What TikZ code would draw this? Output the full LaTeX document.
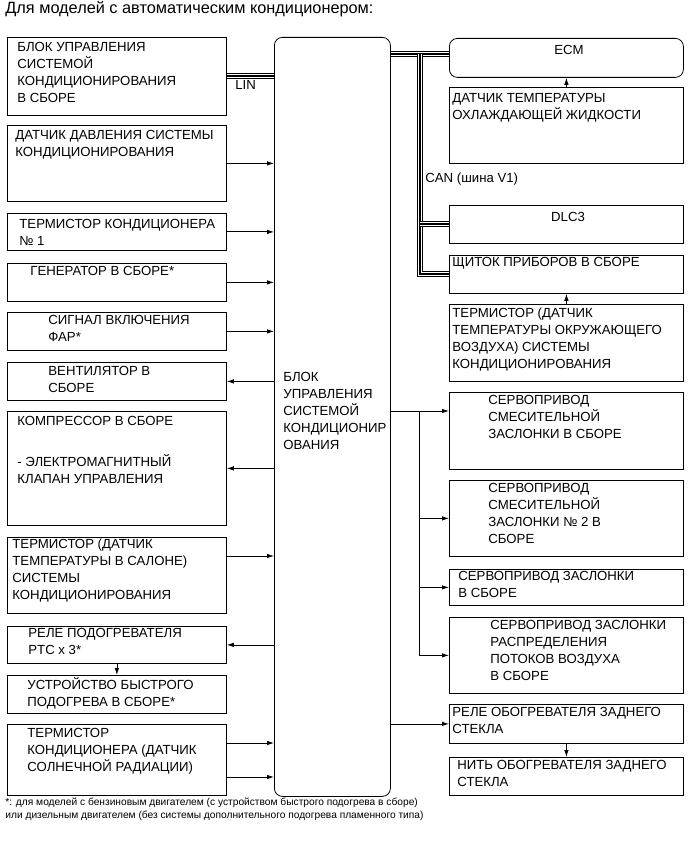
\documentclass[tikz,border=0pt]{standalone}
\usepackage{fontspec}
\setmainfont{Liberation Sans}
\usetikzlibrary{arrows.meta, calc}

\begin{document}
\begin{tikzpicture}[x=1pt, y=-1pt, line width=0.8pt,
    box/.style={draw, rectangle, anchor=north west, inner sep=0pt},
    lbox/.style={box, minimum width=219pt},
    rbox/.style={box, minimum width=234pt},
    txt/.style={anchor=north west, inner sep=0pt, align=left, font=\fontsize{13.2}{17}\selectfont},
    arr/.style={-{Latex[length=7pt, width=4.5pt]}},
    bus/.style={line width=6pt, postaction={draw, white, line width=4pt}, postaction={draw, black, line width=2pt}}]
        \useasboundingbox (0,0) rectangle (691,858);

        \node[anchor=base west, inner sep=0pt, font=\fontsize{16.3}{18}\selectfont] (title) at (5,14) {Для моделей с автоматическим кондиционером:};

        % central unit
        \node[box, rounded corners=8pt, minimum width=116pt, minimum height=759pt] (ecu) at (274,37) {};
        \node[txt] (ecut) at (283,372) {БЛОК\\УПРАВЛЕНИЯ\\СИСТЕМОЙ\\КОНДИЦИОНИР\\ОВАНИЯ};

        % left column
        \node[lbox, minimum height=78pt] (acu) at (7,37) {};
        \node[txt] (acut) at (17,42) {БЛОК УПРАВЛЕНИЯ\\СИСТЕМОЙ\\КОНДИЦИОНИРОВАНИЯ\\В СБОРЕ};
        \node[lbox, minimum height=76pt] (dp) at (7,125) {};
        \node[txt] (dpt) at (15,130) {ДАТЧИК ДАВЛЕНИЯ СИСТЕМЫ\\КОНДИЦИОНИРОВАНИЯ};
        \node[lbox, minimum height=37pt] (th1) at (7,213) {};
        \node[txt] (th1t) at (19,219) {ТЕРМИСТОР КОНДИЦИОНЕРА\\№ 1};
        \node[lbox, minimum height=38pt] (gen) at (7,263) {};
        \node[txt] (gent) at (30,266) {ГЕНЕРАТОР В СБОРЕ*};
        \node[lbox, minimum height=38pt] (hl) at (7,312) {};
        \node[txt] (hlt) at (48,315) {СИГНАЛ ВКЛЮЧЕНИЯ\\ФАР*};
        \node[lbox, minimum height=38pt] (fan) at (7,362) {};
        \node[txt] (fant) at (48,366) {ВЕНТИЛЯТОР В\\СБОРЕ};
        \node[lbox, minimum height=114pt] (cmp) at (7,411) {};
        \node[txt] (cmpt) at (17,416) {КОМПРЕССОР В СБОРЕ\\[24pt]- ЭЛЕКТРОМАГНИТНЫЙ\\КЛАПАН УПРАВЛЕНИЯ};
        \node[lbox, minimum height=76pt] (tr) at (7,537) {};
        \node[txt] (trt) at (12,539) {ТЕРМИСТОР (ДАТЧИК\\ТЕМПЕРАТУРЫ В САЛОНЕ)\\СИСТЕМЫ\\КОНДИЦИОНИРОВАНИЯ};
        \node[lbox, minimum height=37pt] (ptc) at (7,626) {};
        \node[txt] (ptct) at (28,628) {РЕЛЕ ПОДОГРЕВАТЕЛЯ\\PTC x 3*};
        \node[lbox, minimum height=38pt] (qh) at (7,675) {};
        \node[txt] (qht) at (27,677) {УСТРОЙСТВО БЫСТРОГО\\ПОДОГРЕВА В СБОРЕ*};
        \node[lbox, minimum height=71pt] (sol) at (7,724) {};
        \node[txt] (solt) at (27,728) {ТЕРМИСТОР\\КОНДИЦИОНЕРА (ДАТЧИК\\СОЛНЕЧНОЙ РАДИАЦИИ)};

        % right column
        \node[rbox, rounded corners=8pt, minimum height=39pt] (ecm) at (449,38) {};
        \node[txt, anchor=north] (ecmt) at (569,45) {ECM};
        \node[rbox, minimum height=76pt] (ct) at (449,87) {};
        \node[txt] (ctt) at (452,93) {ДАТЧИК ТЕМПЕРАТУРЫ\\ОХЛАЖДАЮЩЕЙ ЖИДКОСТИ};
        \node[txt] (cant) at (425,173) {CAN (шина V1)};
        \node[rbox, minimum height=38pt] (dlc) at (449,205) {};
        \node[txt, anchor=north] (dlct) at (568,212) {DLC3};
        \node[rbox, minimum height=38pt] (panel) at (449,255) {};
        \node[txt] (panelt) at (452,257) {ЩИТОК ПРИБОРОВ В СБОРЕ};
        \node[rbox, minimum height=77pt] (amb) at (449,304) {};
        \node[txt] (ambt) at (452,308) {ТЕРМИСТОР (ДАТЧИК\\ТЕМПЕРАТУРЫ ОКРУЖАЮЩЕГО\\ВОЗДУХА) СИСТЕМЫ\\КОНДИЦИОНИРОВАНИЯ};
        \node[rbox, minimum height=77pt] (s1) at (449,392) {};
        \node[txt] (s1t) at (488,395) {СЕРВОПРИВОД\\СМЕСИТЕЛЬНОЙ\\ЗАСЛОНКИ В СБОРЕ};
        \node[rbox, minimum height=76pt] (s2) at (449,480) {};
        \node[txt] (s2t) at (488,483) {СЕРВОПРИВОД\\СМЕСИТЕЛЬНОЙ\\ЗАСЛОНКИ № 2 В\\СБОРЕ};
        \node[rbox, minimum height=36pt] (s3) at (449,569) {};
        \node[txt] (s3t) at (458,571) {СЕРВОПРИВОД ЗАСЛОНКИ\\В СБОРЕ};
        \node[rbox, minimum height=76pt] (s4) at (449,617) {};
        \node[txt] (s4t) at (490,620) {СЕРВОПРИВОД ЗАСЛОНКИ\\РАСПРЕДЕЛЕНИЯ\\ПОТОКОВ ВОЗДУХА\\В СБОРЕ};
        \node[rbox, minimum height=39pt] (rr) at (449,704) {};
        \node[txt] (rrt) at (452,707) {РЕЛЕ ОБОГРЕВАТЕЛЯ ЗАДНЕГО\\СТЕКЛА};
        \node[rbox, minimum height=38pt] (rh) at (449,757) {};
        \node[txt] (rht) at (457,760) {НИТЬ ОБОГРЕВАТЕЛЯ ЗАДНЕГО\\СТЕКЛА};

        % buses
        \draw[bus] (acu.east) -- (acu.east -| ecu.west);
        \node[txt] (lin) at (235,80) {LIN};
        \coordinate (can) at (420,54);
        \draw[bus] (can -| ecu.east) -- (can -| ecm.west);
        \draw[bus] (can) |- (panel.west);
        \draw[bus] (can |- dlc.west) -- (dlc.west);

        % left connectors
        \draw[arr] (dp.east) -- (dp.east -| ecu.west);
        \draw[arr] (th1.east) -- (th1.east -| ecu.west);
        \draw[arr] (gen.east) -- (gen.east -| ecu.west);
        \draw[arr] (hl.east) -- (hl.east -| ecu.west);
        \draw[arr] (fan.east -| ecu.west) -- (fan.east);
        \draw[arr] (cmp.east -| ecu.west) -- (cmp.east);
        \coordinate (trout) at ([yshift=-19pt]tr.north east);
        \draw[arr] (trout) -- (trout -| ecu.west);
        \draw[arr] (ptc.east -| ecu.west) -- (ptc.east);
        \draw[arr] (ptc.south) -- (qh.north);
        \coordinate (sol1) at ([yshift=-19pt]sol.north east);
        \coordinate (sol2) at ([yshift=-53pt]sol.north east);
        \draw[arr] (sol1) -- (sol1 -| ecu.west);
        \draw[arr] (sol2) -- (sol2 -| ecu.west);

        % right connectors
        \draw[arr] (ct.north) -- (ecm.south);
        \draw[arr] (amb.north) -- (panel.south);
        \coordinate (s1in) at ([yshift=-19pt]s1.north west);
        \coordinate (fork) at ([xshift=-30pt]s1in);
        \draw[arr] (s1in -| ecu.east) -- (s1in);
        \draw[arr] (fork) |- (s4.west);
        \draw[arr] (fork |- s2.west) -- (s2.west);
        \draw[arr] (fork |- s3.west) -- (s3.west);
        \draw[arr] (rr.west -| ecu.east) -- (rr.west);
        \draw[arr] (rr.south) -- (rh.north);

        \node[anchor=north west, inner sep=0pt, align=left, font=\fontsize{10.2}{12.5}\selectfont] (note) at (5,798) {*: для моделей с бензиновым двигателем (с устройством быстрого подогрева в сборе)\\или дизельным двигателем (без системы дополнительного подогрева пламенного типа)};
      \end{tikzpicture}
\end{document}
